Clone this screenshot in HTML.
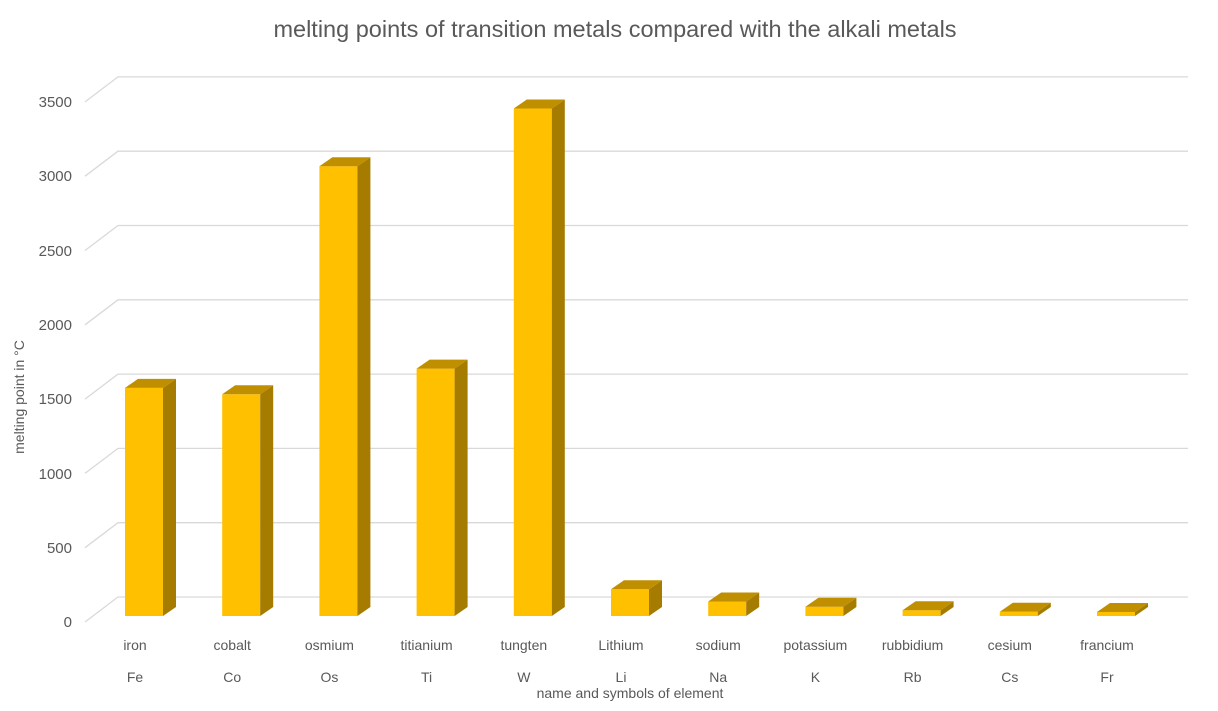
<!DOCTYPE html>
<html><head><style>
body{margin:0;background:#fff;}
svg text{font-family:"Liberation Sans",sans-serif;fill:#595959;}
</style></head><body>
<svg width="1218" height="706" xmlns="http://www.w3.org/2000/svg">
<text x="615" y="37" font-size="23.5" text-anchor="middle">melting points of transition metals compared with the alkali metals</text>
<g stroke="#d9d9d9" stroke-width="1.3" fill="none">
<polyline points="85,622 118,597 1188,597"/>
<polyline points="85,547.7 118,522.7 1188,522.7"/>
<polyline points="85,473.4 118,448.4 1188,448.4"/>
<polyline points="85,399.1 118,374.1 1188,374.1"/>
<polyline points="85,324.8 118,299.8 1188,299.8"/>
<polyline points="85,250.5 118,225.5 1188,225.5"/>
<polyline points="85,176.2 118,151.2 1188,151.2"/>
<polyline points="85,101.9 118,76.9 1188,76.9"/>
</g>
<g font-size="15" text-anchor="end">
<text x="72" y="627">0</text><text x="72" y="553">500</text><text x="72" y="479">1000</text><text x="72" y="404">1500</text><text x="72" y="330">2000</text><text x="72" y="256">2500</text><text x="72" y="181">3000</text><text x="72" y="107">3500</text>
</g>
<text transform="translate(24,397) rotate(-90)" font-size="14" text-anchor="middle">melting point in °C</text>
<g>
<rect x="125" y="387.9" width="38" height="228.1" fill="#ffc000"/><polygon points="163,387.9 176,378.9 176,607 163,616" fill="#a67c00"/><polygon points="125,387.9 138,378.9 176,378.9 163,387.9" fill="#bf8f00"/>
<rect x="222.2" y="394.3" width="38" height="221.7" fill="#ffc000"/><polygon points="260.2,394.3 273.2,385.3 273.2,607 260.2,616" fill="#a67c00"/><polygon points="222.2,394.3 235.2,385.3 273.2,385.3 260.2,394.3" fill="#bf8f00"/>
<rect x="319.4" y="166.2" width="38" height="449.8" fill="#ffc000"/><polygon points="357.4,166.2 370.4,157.2 370.4,607 357.4,616" fill="#a67c00"/><polygon points="319.4,166.2 332.4,157.2 370.4,157.2 357.4,166.2" fill="#bf8f00"/>
<rect x="416.6" y="368.6" width="38" height="247.4" fill="#ffc000"/><polygon points="454.6,368.6 467.6,359.6 467.6,607 454.6,616" fill="#a67c00"/><polygon points="416.6,368.6 429.6,359.6 467.6,359.6 454.6,368.6" fill="#bf8f00"/>
<rect x="513.8" y="108.5" width="38" height="507.5" fill="#ffc000"/><polygon points="551.8,108.5 564.8,99.5 564.8,607 551.8,616" fill="#a67c00"/><polygon points="513.8,108.5 526.8,99.5 564.8,99.5 551.8,108.5" fill="#bf8f00"/>
<rect x="611" y="589.3" width="38" height="26.7" fill="#ffc000"/><polygon points="649,589.3 662,580.3 662,607 649,616" fill="#a67c00"/><polygon points="611,589.3 624,580.3 662,580.3 649,589.3" fill="#bf8f00"/>
<rect x="708.2" y="601.5" width="38" height="14.5" fill="#ffc000"/><polygon points="746.2,601.5 759.2,592.5 759.2,607 746.2,616" fill="#a67c00"/><polygon points="708.2,601.5 721.2,592.5 759.2,592.5 746.2,601.5" fill="#bf8f00"/>
<rect x="805.4" y="606.7" width="38" height="9.3" fill="#ffc000"/><polygon points="843.4,606.7 856.4,597.7 856.4,607 843.4,616" fill="#a67c00"/><polygon points="805.4,606.7 818.4,597.7 856.4,597.7 843.4,606.7" fill="#bf8f00"/>
<rect x="902.6" y="610.2" width="38" height="5.8" fill="#ffc000"/><polygon points="940.6,610.2 953.6,601.2 953.6,607 940.6,616" fill="#a67c00"/><polygon points="902.6,610.2 915.6,601.2 953.6,601.2 940.6,610.2" fill="#bf8f00"/>
<rect x="999.8" y="611.8" width="38" height="4.2" fill="#ffc000"/><polygon points="1037.8,611.8 1050.8,602.8 1050.8,607 1037.8,616" fill="#a67c00"/><polygon points="999.8,611.8 1012.8,602.8 1050.8,602.8 1037.8,611.8" fill="#bf8f00"/>
<rect x="1097" y="612" width="38" height="4" fill="#ffc000"/><polygon points="1135,612 1148,603 1148,607 1135,616" fill="#a67c00"/><polygon points="1097,612 1110,603 1148,603 1135,612" fill="#bf8f00"/>
</g>
<g font-size="14" text-anchor="middle">
<text x="135" y="650">iron</text><text x="232.2" y="650">cobalt</text><text x="329.4" y="650">osmium</text><text x="426.6" y="650">titianium</text><text x="523.8" y="650">tungten</text><text x="621" y="650">Lithium</text><text x="718.2" y="650">sodium</text><text x="815.4" y="650">potassium</text><text x="912.6" y="650">rubbidium</text><text x="1009.8" y="650">cesium</text><text x="1107" y="650">francium</text>
<text x="135" y="682">Fe</text><text x="232.2" y="682">Co</text><text x="329.4" y="682">Os</text><text x="426.6" y="682">Ti</text><text x="523.8" y="682">W</text><text x="621" y="682">Li</text><text x="718.2" y="682">Na</text><text x="815.4" y="682">K</text><text x="912.6" y="682">Rb</text><text x="1009.8" y="682">Cs</text><text x="1107" y="682">Fr</text>
</g>
<text x="630" y="698" font-size="14" text-anchor="middle">name and symbols of element</text>
</svg>
</body></html>
